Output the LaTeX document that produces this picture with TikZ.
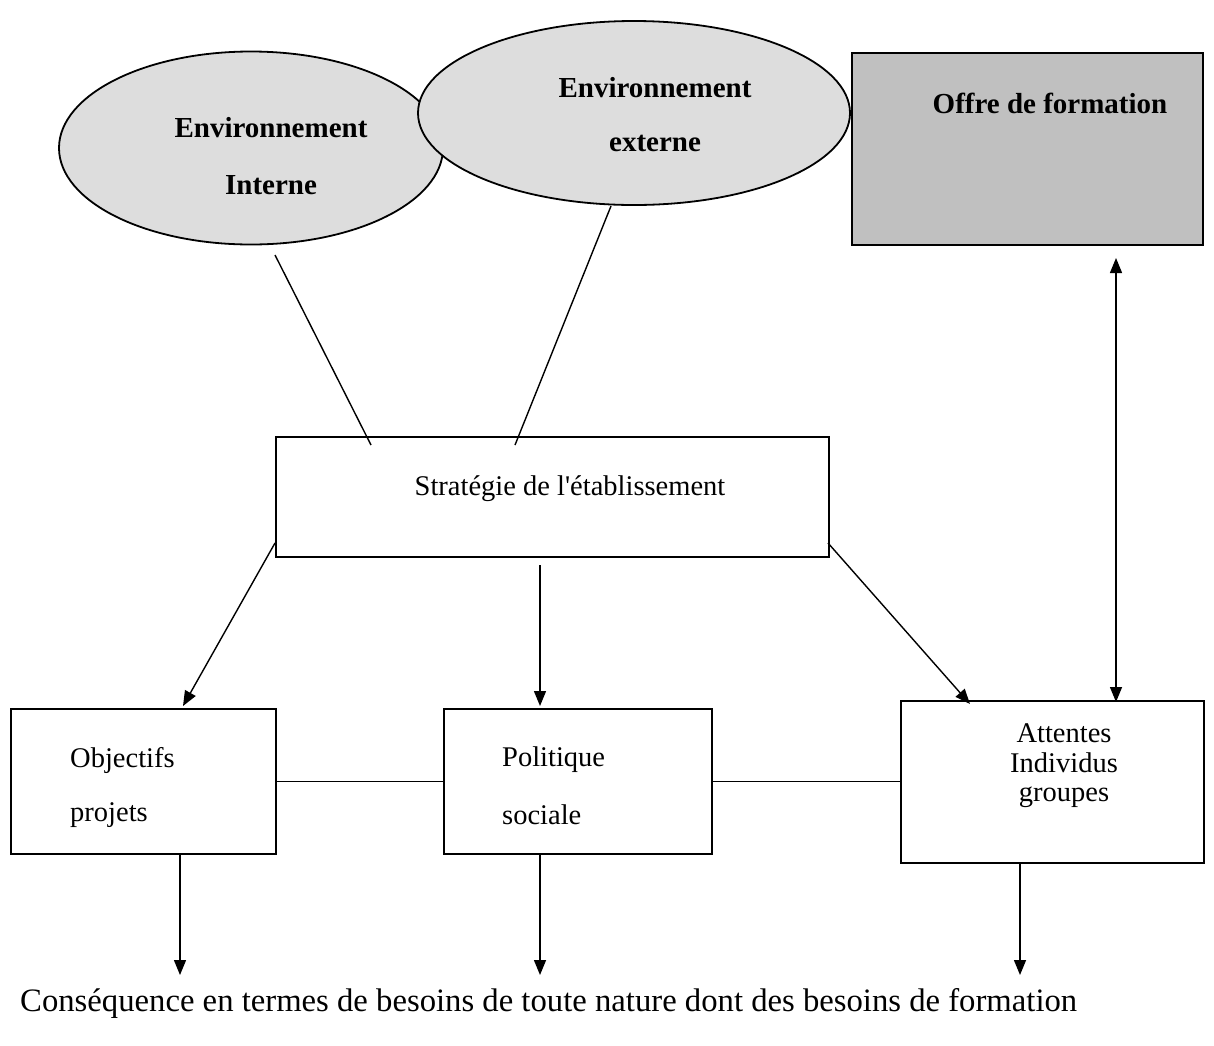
\documentclass[tikz,border=0pt]{standalone}
\usepackage{fontspec}
\setmainfont{Liberation Serif}[Ligatures=TeXOff]
\usetikzlibrary{shapes.geometric,arrows.meta}
\definecolor{ellfill}{HTML}{DDDDDD}
\definecolor{boxfill}{HTML}{C0C0C0}
\begin{document}
\begin{tikzpicture}[x=1pt,y=-1pt,
 conn/.style={line width=1.4pt},
 tip/.style={conn,-{Triangle[length=15pt,width=12pt]}},
 dtip/.style={conn,{Triangle[length=15pt,width=12pt]}-{Triangle[length=15pt,width=12pt]}},
 box/.style={draw,line width=1.9pt,inner sep=0pt,anchor=north west},
 ell/.style={draw,ellipse,fill=ellfill,line width=1.8pt,inner sep=0pt},
 lbl/.style={font=\fontsize{28.5}{33}\selectfont,inner sep=0pt},
 blbl/.style={font=\fontsize{29}{34}\selectfont\bfseries,inner sep=0pt},
 big/.style={font=\fontsize{32.7}{38}\selectfont,inner sep=0pt}]
\useasboundingbox (0,0) rectangle (1214,1045);
% ellipses
\node[ell,minimum width=384pt,minimum height=193pt] (einterne) at (251,148) {};
\node[ell,minimum width=432pt,minimum height=184pt] (eexterne) at (634,113) {};
\node[blbl] (tint1) at (271,128) {Environnement};
\node[blbl] (tint2) at (271,185) {Interne};
\node[blbl] (text1) at (655,88) {Environnement};
\node[blbl] (text2) at (655,143) {externe};
% offre
\node[box,fill=boxfill,minimum width=351pt,minimum height=192pt] (offre) at (851,52) {};
\node[blbl] (toffre) at (1050,103) {Offre de formation};
% strategie
\node[box,minimum width=553pt,minimum height=120pt] (strat) at (275,436) {};
\node[lbl] (tstrat) at (570,489) {Stratégie de l'établissement};
% bottom boxes
\node[box,minimum width=265pt,minimum height=145pt] (obj) at (10,708) {};
\node[lbl,anchor=west] (tobj1) at (70,760) {Objectifs};
\node[lbl,anchor=west] (tobj2) at (70,815) {projets};
\node[box,minimum width=268pt,minimum height=145pt] (pol) at (443,708) {};
\node[lbl,anchor=west] (tpol1) at (502,760) {Politique};
\node[lbl,anchor=west] (tpol2) at (502,815) {sociale};
\node[box,minimum width=303pt,minimum height=162pt] (att) at (900,700) {};
\node[lbl] (tatt1) at (1064,733) {Attentes};
\node[lbl] (tatt2) at (1064,763) {Individus};
\node[lbl] (tatt3) at (1064,797) {groupes};
% bottom text
\node[big,anchor=west] (conseq) at (20,1003) {Conséquence en termes de besoins de toute nature dont des besoins de formation};
% connector coordinates
\coordinate (li1) at (275,255);
\coordinate (li2) at (371,445);
\coordinate (le1) at (611,206);
\coordinate (le2) at (515,445);
\coordinate (as1) at (275,543);
\coordinate (ae1) at (183,706);
\coordinate (as2) at (540,565);
\coordinate (ae2) at (540,706);
\coordinate (as3) at (828,543);
\coordinate (ae3) at (970,704);
\coordinate (d1s) at (1116,258);
\coordinate (d1e) at (1116,702);
\coordinate (b1e) at (180,975);
\coordinate (b2e) at (540,975);
\coordinate (b3e) at (1020,975);
% connectors
\draw[conn] (li1) -- (li2);
\draw[conn] (le1) -- (le2);
\draw[tip] (as1) -- (ae1);
\draw[tip] (as2) -- (ae2);
\draw[tip] (as3) -- (ae3);
\draw[dtip] (d1s) -- (d1e);
\draw[conn] (obj.east) -- (pol.west);
\draw[conn] (pol.east) -- (att.west |- pol.east);
\draw[tip] (obj.south -| b1e) -- (b1e);
\draw[tip] (pol.south -| b2e) -- (b2e);
\draw[tip] (att.south -| b3e) -- (b3e);
\end{tikzpicture}
\end{document}
